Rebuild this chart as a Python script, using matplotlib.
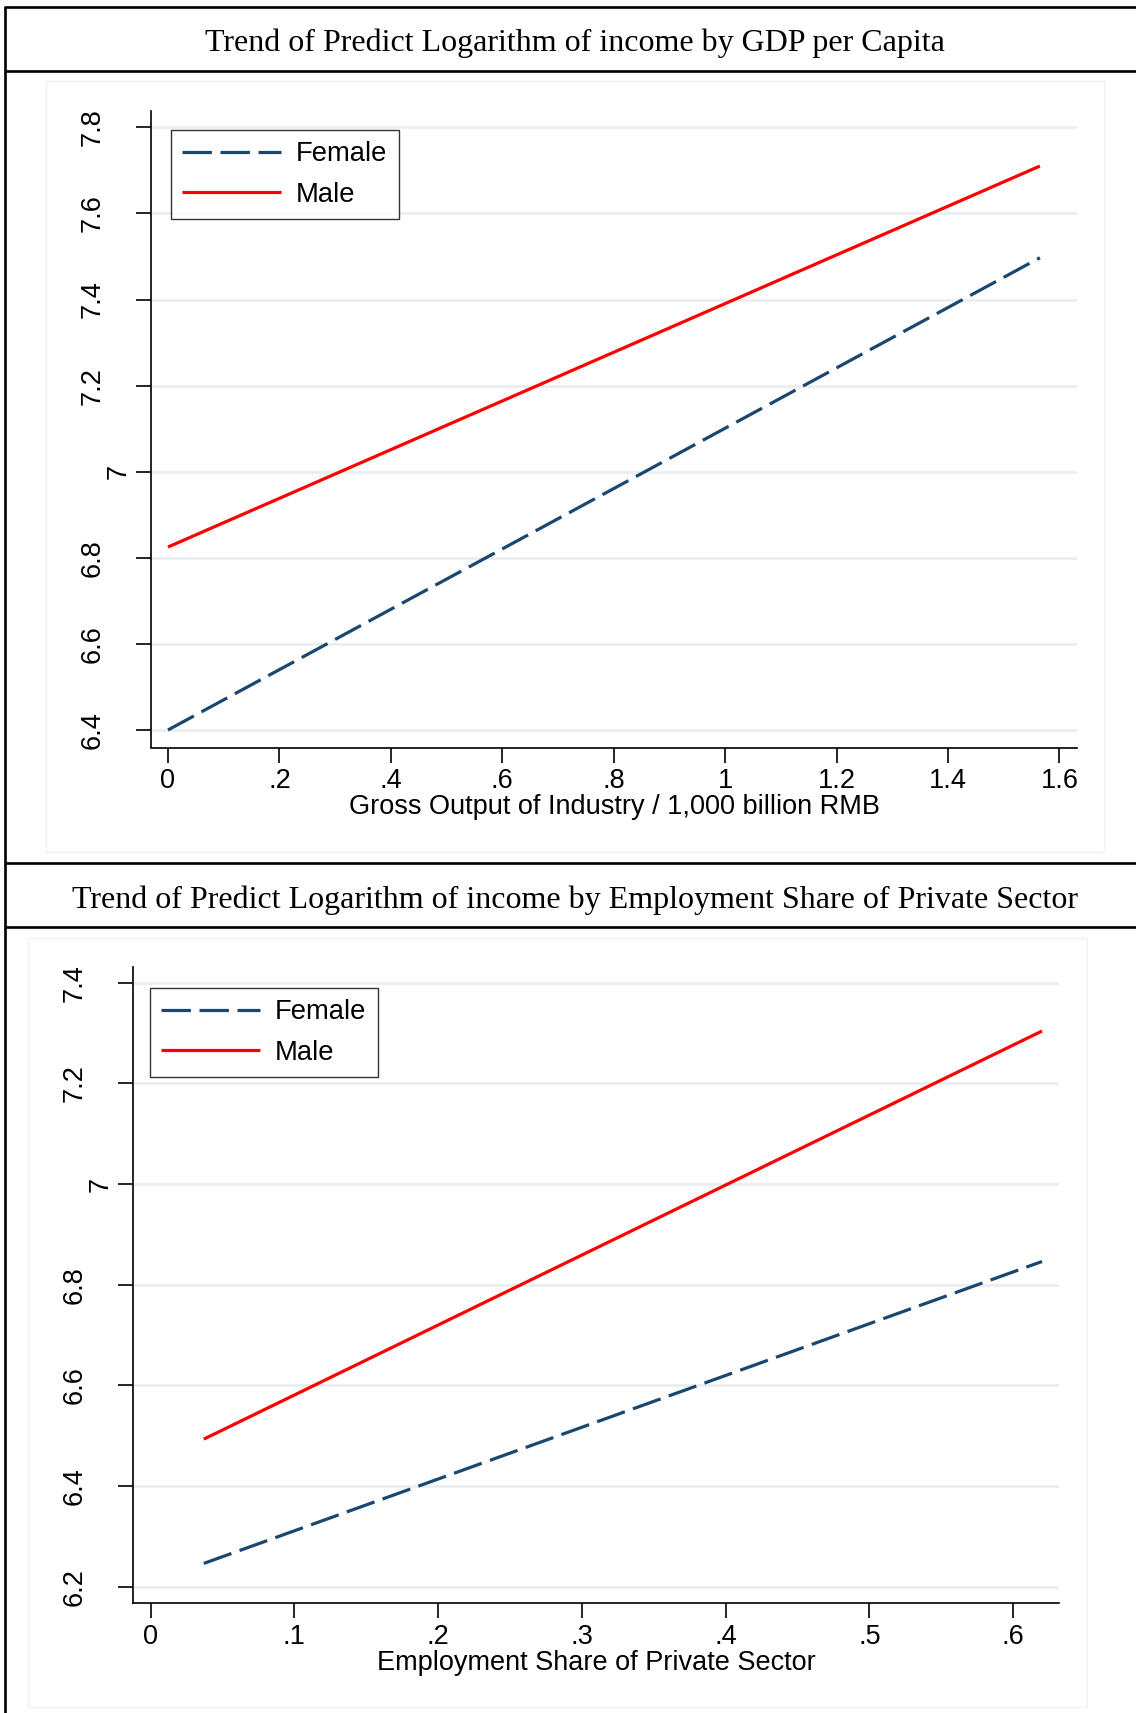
import matplotlib
matplotlib.use("Agg")
import matplotlib.pyplot as plt
from matplotlib.lines import Line2D
from matplotlib.patches import Rectangle
from matplotlib.transforms import ScaledTranslation

# ---------------- data ----------------
title_top = "Trend of Predict Logarithm of income by GDP per Capita"
title_bot = "Trend of Predict Logarithm of income by Employment Share of Private Sector"
series_names = ["Female", "Male"]

top_x = [0.0, 1.565]
top_female = [6.400, 7.497]
top_male = [6.825, 7.710]
top_xticks = [0, 0.2, 0.4, 0.6, 0.8, 1.0, 1.2, 1.4, 1.6]
top_xticklabels = ["0", ".2", ".4", ".6", ".8", "1", "1.2", "1.4", "1.6"]
top_yticks = [6.4, 6.6, 6.8, 7.0, 7.2, 7.4, 7.6, 7.8]
top_yticklabels = ["6.4", "6.6", "6.8", "7", "7.2", "7.4", "7.6", "7.8"]
top_xlabel = "Gross Output of Industry / 1,000 billion RMB"

bot_x = [0.037, 0.620]
bot_female = [6.246, 6.846]
bot_male = [6.493, 7.304]
bot_xticks = [0, 0.1, 0.2, 0.3, 0.4, 0.5, 0.6]
bot_xticklabels = ["0", ".1", ".2", ".3", ".4", ".5", ".6"]
bot_yticks = [6.2, 6.4, 6.6, 6.8, 7.0, 7.2, 7.4]
bot_yticklabels = ["6.2", "6.4", "6.6", "6.8", "7", "7.2", "7.4"]
bot_xlabel = "Employment Share of Private Sector"

# ---------------- style ----------------
W, H = 1136, 1713
DPI = 100
NAVY = "#1a476f"
RED = "#ff0000"
GRID = "#e9eff1"
SANS = "Liberation Sans"
SERIF = "Liberation Serif"
TICK_FS = 19.5
LEG_FS = 19.7
TITLE_FS = 23

def fx(x):
    return x / W

def fy(y):
    return 1 - y / H

fig = plt.figure(figsize=(W / DPI, H / DPI), dpi=DPI)
fig.patch.set_facecolor("white")

# table rules
def hline(y, x0=5, x1=W, lw=1.9):
    fig.add_artist(Line2D([fx(x0), fx(x1)], [fy(y), fy(y)], transform=fig.transFigure,
                          color="black", lw=lw, solid_capstyle="butt"))

def vline(x, y0, y1, lw=1.9):
    fig.add_artist(Line2D([fx(x), fx(x)], [fy(y0), fy(y1)], transform=fig.transFigure,
                          color="black", lw=lw, solid_capstyle="butt"))

hline(7)
hline(71)
hline(863)
hline(927)
vline(5, 6, H)

# titles
fig.text(fx(575), fy(43), title_top, ha="center", va="center", family=SERIF, fontsize=TITLE_FS)
fig.text(fx(575), fy(900), title_bot, ha="center", va="center", family=SERIF, fontsize=TITLE_FS)

# inner light boxes
for (x0, y0, x1, y1) in [(46, 81, 1104, 852), (28, 938, 1087, 1707)]:
    fig.add_artist(Rectangle((fx(x0), fy(y1)), fx(x1) - fx(x0), fy(y0) - fy(y1),
                             transform=fig.transFigure, facecolor="white",
                             edgecolor="#edf2f4", lw=1.0, zorder=0))


def make_panel(rect, xs, fem, mal, xticks, xtl, yticks, ytl, xlim, ylim, xlabel, leg_xy):
    ax = fig.add_axes(rect)
    ax.set_facecolor("none")
    ax.plot(xs, fem, color=NAVY, lw=2.3, dashes=(9.2, 2.7), dash_capstyle="butt",
            label=series_names[0])
    ax.plot(xs, mal, color=RED, lw=2.3, label=series_names[1], solid_capstyle="butt")
    ax.set_xlim(*xlim)
    ax.set_ylim(*ylim)
    ax.set_xticks(xticks)
    ax.set_xticklabels(xtl, family=SANS, fontsize=TICK_FS)
    ax.set_yticks(yticks)
    ax.set_yticklabels(ytl, family=SANS, fontsize=TICK_FS)
    ax.tick_params(axis="y", length=11, width=1.2, pad=22, labelrotation=90)
    ax.tick_params(axis="x", length=11, width=1.2, pad=4)
    for lab in ax.get_yticklabels():
        lab.set_va("center")
    ax.spines["top"].set_visible(False)
    ax.spines["right"].set_visible(False)
    ax.spines["left"].set_linewidth(1.2)
    ax.spines["bottom"].set_linewidth(1.2)
    ax.yaxis.grid(True, color=GRID, lw=2.0)
    ax.xaxis.grid(False)
    ax.set_axisbelow(True)
    ax.set_xlabel(xlabel, family=SANS, fontsize=TICK_FS, labelpad=0)
    leg = ax.legend(loc="upper left", bbox_to_anchor=leg_xy, bbox_transform=fig.transFigure,
                    prop={"family": SANS, "size": LEG_FS}, frameon=True, fancybox=False,
                    edgecolor="black", handlelength=3.6, handletextpad=0.55,
                    borderpad=0.42, labelspacing=0.52, borderaxespad=0)
    leg.get_frame().set_linewidth(1.0)
    # shift the integer label as in the original
    for lab in ax.get_yticklabels():
        if lab.get_text() == "7":
            lab.set_transform(lab.get_transform() + ScaledTranslation(26 / DPI, 0, fig.dpi_scale_trans))
    return ax

make_panel([fx(151), fy(747.5), fx(1077) - fx(151), fy(110.7) - fy(747.5)],
           top_x, top_female, top_male, top_xticks, top_xticklabels,
           top_yticks, top_yticklabels, (-0.0305, 1.6316), (6.3593, 7.8386),
           top_xlabel, (fx(171), fy(130)))

make_panel([fx(133.3), fy(1602.7), fx(1059) - fx(133.3), fy(966.7) - fy(1602.7)],
           bot_x, bot_female, bot_male, bot_xticks, bot_xticklabels,
           bot_yticks, bot_yticklabels, (-0.012, 0.6318), (6.168, 7.4318),
           bot_xlabel, (fx(150), fy(988)))

fig.savefig("out.png", dpi=DPI)
